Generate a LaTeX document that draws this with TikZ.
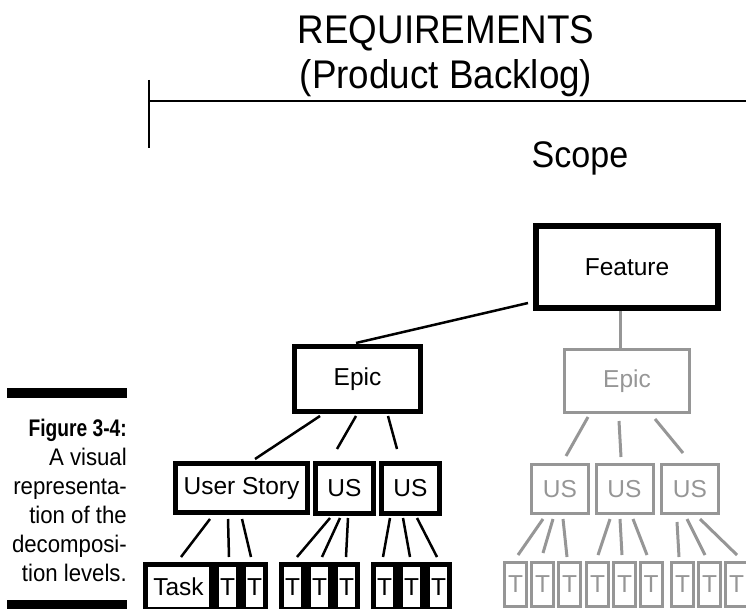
\documentclass[tikz,border=0pt]{standalone}
\usepackage{fontspec}
\setmainfont{Liberation Sans}
\newfontfamily\capfont[FakeStretch=0.925]{Liberation Sans}
\newfontfamily\capbold[FakeStretch=0.8]{Liberation Sans}
\newfontfamily\tallfont[FakeStretch=0.92]{Liberation Sans}
\definecolor{fadegrey}{RGB}{150,150,150}

\begin{document}
\begin{tikzpicture}[x=1pt,y=-1pt,
    box/.style={draw,line width=5pt,inner sep=0pt,font=\fontsize{24.5}{29}\selectfont},
    greybox/.style={draw=fadegrey,text=fadegrey,line width=3pt,inner sep=0pt,font=\fontsize{24.5}{29}\selectfont},
    usbox/.style={minimum width=58pt,minimum height=50pt},
    tbox/.style={box,minimum width=22pt,minimum height=45pt},
    gtbox/.style={greybox,minimum width=22pt,minimum height=44pt},
    link/.style={line width=2.5pt},
    greylink/.style={fadegrey,line width=3pt},
    bigtext/.style={inner sep=0pt,font=\tallfont\fontsize{40}{45}\selectfont}]
    \useasboundingbox (0,0) rectangle (746,609);

    % Heading and scope bracket
    \node[bigtext,anchor=base] (title) at (446,44) {REQUIREMENTS};
    \node[bigtext,anchor=base] (backlog) at (446,89) {(Product Backlog)};
    \draw[line width=2.2pt] (149,80) -- (149,148);
    \draw[line width=2.2pt] (149,101) -- (746,101);
    \node[bigtext,anchor=base,font=\tallfont\fontsize{37}{45}\selectfont] (scope) at (580,168) {Scope};

    % Caption on the left
    \fill (7,388) rectangle (127,398);
    \fill (7,600) rectangle (127,610);
    \node[anchor=north east,inner sep=0pt,align=right,font=\capfont\fontsize{24}{29}\selectfont] (caption) at (127,419)
        {{\capbold\bfseries Figure 3-4:}\\A visual\\representa-\\tion of the\\decomposi-\\tion levels.};

    % Feature and epics
    \node[box,line width=6pt,minimum width=182pt,minimum height=82pt] (feature) at (627,267) {Feature};
    \node[box,minimum width=126pt,minimum height=65pt] (epicA) at (357.5,379) {Epic};
    \node[greybox,minimum width=125pt,minimum height=63pt] (epicB) at (627,381) {Epic};

    % User stories
    \node[box,minimum width=132pt,minimum height=49pt] (story) at (241.5,488) {User Story};
    \node[box,usbox] (usA) at (344.5,488.5) {US};
    \node[box,usbox] (usB) at (410.5,488.5) {US};
    \node[greybox,minimum width=57pt,minimum height=49pt] (gusA) at (560,489) {US};
    \node[greybox,minimum width=57pt,minimum height=49pt] (gusB) at (624.5,489) {US};
    \node[greybox,minimum width=57pt,minimum height=49pt] (gusC) at (690,489) {US};

    % Tasks (black)
    \node[tbox,minimum width=66pt] (task) at (178.5,587) {Task};
    \node[tbox] (tA1) at (227.5,587) {T};
    \node[tbox] (tA2) at (254.5,587) {T};
    \node[tbox] (tB1) at (292.5,587) {T};
    \node[tbox] (tB2) at (319.5,587) {T};
    \node[tbox] (tB3) at (346.5,587) {T};
    \node[tbox] (tC1) at (384.5,587) {T};
    \node[tbox] (tC2) at (411.5,587) {T};
    \node[tbox] (tC3) at (438.5,587) {T};

    % Tasks (grey)
    \node[gtbox] (gt1) at (515.5,584.5) {T};
    \node[gtbox] (gt2) at (542.5,584.5) {T};
    \node[gtbox] (gt3) at (569.5,584.5) {T};
    \node[gtbox] (gt4) at (597.5,584.5) {T};
    \node[gtbox] (gt5) at (624.5,584.5) {T};
    \node[gtbox] (gt6) at (651,584.5) {T};
    \node[gtbox] (gt7) at (682.5,584.5) {T};
    \node[gtbox] (gt8) at (709.5,584.5) {T};
    \node[gtbox] (gt9) at (736.5,584.5) {T};

    % Links feature -> epics
    \draw[link] ([xshift=-5pt,yshift=8pt]feature.south west) -- ([xshift=-1.5pt,yshift=1pt]epicA.north);
    \draw[greylink] ([xshift=-7pt]feature.south) -- ([xshift=-7pt]epicB.north);

    % Links epics -> stories
    \draw[link] ([xshift=-37.5pt,yshift=-2pt]epicA.south) -- ([xshift=13.5pt,yshift=2pt]story.north);
    \draw[link] ([xshift=-1.5pt,yshift=-2pt]epicA.south) -- ([xshift=-7.5pt,yshift=12pt]usA.north);
    \draw[link] ([xshift=30.5pt,yshift=-2pt]epicA.south) -- ([xshift=-13.5pt,yshift=12pt]usB.north);
    \draw[greylink] ([xshift=-39pt,yshift=-3pt]epicB.south) -- ([xshift=6pt,yshift=7pt]gusA.north);
    \draw[greylink] ([xshift=-8pt,yshift=-7pt]epicB.south) -- ([xshift=-3.5pt,yshift=6pt]gusB.north);
    \draw[greylink] ([xshift=28pt,yshift=-5pt]epicB.south) -- ([xshift=-7pt,yshift=10pt]gusC.north);

    % Links stories -> tasks
    \draw[link] ([xshift=-31.5pt,yshift=-4pt]story.south) -- ([xshift=2.5pt,yshift=5pt]task.north);
    \draw[link] ([xshift=-13.5pt,yshift=-4pt]story.south) -- ([xshift=1.5pt,yshift=5pt]tA1.north);
    \draw[link] ([xshift=0.5pt,yshift=-4pt]story.south) -- ([xshift=-3.5pt,yshift=5pt]tA2.north);
    \draw[link] ([xshift=-14.5pt,yshift=-2pt]usA.south) -- ([xshift=4.5pt,yshift=5pt]tB1.north);
    \draw[link] ([xshift=-4.5pt,yshift=-2pt]usA.south) -- ([xshift=2.5pt,yshift=5pt]tB2.north);
    \draw[link] ([xshift=3.5pt,yshift=-2pt]usA.south) -- ([xshift=-0.5pt,yshift=5pt]tB3.north);
    \draw[link] ([xshift=-20.5pt,yshift=-2pt]usB.south) -- ([xshift=-1.5pt,yshift=5pt]tC1.north);
    \draw[link] ([xshift=-7.5pt,yshift=-2pt]usB.south) -- ([xshift=-1.5pt,yshift=5pt]tC2.north);
    \draw[link] ([xshift=6.5pt,yshift=-2pt]usB.south) -- ([xshift=-1.5pt,yshift=5pt]tC3.north);

    \draw[greylink] ([xshift=-17pt,yshift=-4pt]gusA.south) -- ([xshift=2.5pt,yshift=6pt]gt1.north);
    \draw[greylink] ([xshift=-7pt,yshift=-4pt]gusA.south) -- ([xshift=0.5pt,yshift=8pt]gt2.north);
    \draw[greylink] ([xshift=3pt,yshift=-4pt]gusA.south) -- ([xshift=-2.5pt,yshift=4pt]gt3.north);
    \draw[greylink] ([xshift=-14.5pt,yshift=-4pt]gusB.south) -- ([xshift=0.5pt,yshift=6pt]gt4.north);
    \draw[greylink] ([xshift=-4.5pt,yshift=-4pt]gusB.south) -- ([xshift=-2.5pt,yshift=6pt]gt5.north);
    \draw[greylink] ([xshift=8.5pt,yshift=-4pt]gusB.south) -- ([xshift=-4pt,yshift=6pt]gt6.north);
    \draw[greylink] ([xshift=-13pt,yshift=-7pt]gusC.south) -- ([xshift=-3.5pt,yshift=4pt]gt7.north);
    \draw[greylink] ([xshift=-3pt,yshift=-4pt]gusC.south) -- ([xshift=-4.5pt,yshift=6pt]gt8.north);
    \draw[greylink] ([xshift=10pt,yshift=-4pt]gusC.south) -- ([xshift=0.5pt,yshift=6pt]gt9.north);
\end{tikzpicture}
\end{document}
